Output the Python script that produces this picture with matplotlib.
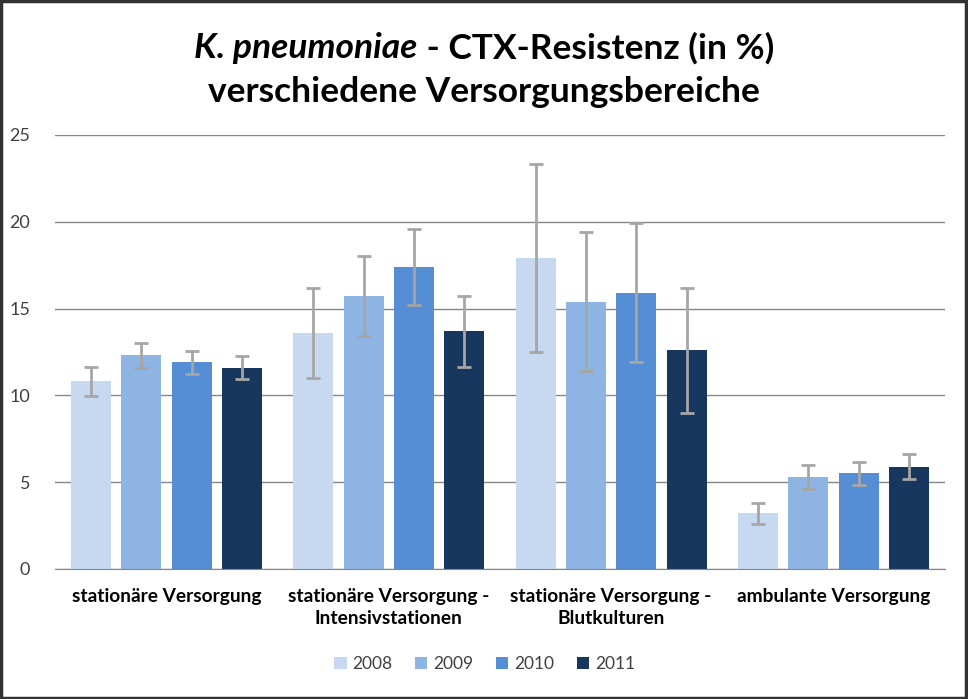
import matplotlib
matplotlib.use("Agg")
import matplotlib.pyplot as plt
from matplotlib.patches import Rectangle
import numpy as np

plt.rcParams['font.family'] = ['Lato', 'DejaVu Sans']

# daten
kategorien = ["stationäre Versorgung", "stationäre Versorgung -\nIntensivstationen",
              "stationäre Versorgung -\nBlutkulturen", "ambulante Versorgung"]
jahre = ["2008", "2009", "2010", "2011"]
werte_2008 = [10.8, 13.6, 17.9, 3.2]
werte_2009 = [12.3, 15.7, 15.4, 5.3]
werte_2010 = [11.9, 17.4, 15.9, 5.5]
werte_2011 = [11.6, 13.7, 12.6, 5.9]
fehler_2008 = [0.85, 2.6, 5.4, 0.6]
fehler_2009 = [0.72, 2.3, 4.0, 0.7]
fehler_2010 = [0.65, 2.2, 4.0, 0.66]
fehler_2011 = [0.65, 2.05, 3.6, 0.7]

werte = [werte_2008, werte_2009, werte_2010, werte_2011]
fehler = [fehler_2008, fehler_2009, fehler_2010, fehler_2011]
farben = ["#C6D9F1", "#8EB4E3", "#558ED5", "#17375E"]

fig = plt.figure(figsize=(9.68, 6.99), dpi=100)
ax = fig.add_axes([0.057, 0.186, 0.919, 0.621])

x = np.arange(len(kategorien))
abstand = 0.2265
breite = 0.18
for i in range(len(jahre)):
    pos = x + (i - 1.5) * abstand
    ax.bar(pos, werte[i], breite, color=farben[i], label=jahre[i], zorder=2)
    ax.errorbar(pos, werte[i], yerr=fehler[i], fmt="none", ecolor="#A6A6A6",
                elinewidth=2, capsize=5, capthick=2, zorder=3)

ax.set_xlim(-0.5, 3.5)
ax.set_ylim(0, 25)
ax.set_yticks([0, 5, 10, 15, 20, 25])
ax.yaxis.grid(True, color="#868686", linewidth=1)
ax.set_axisbelow(True)
for s in ["top", "right", "left"]:
    ax.spines[s].set_visible(False)
ax.spines["bottom"].set_color("#868686")
ax.tick_params(axis="y", length=0, labelsize=13, labelcolor="#404040", pad=18)
ax.tick_params(axis="x", length=0, pad=14)
ax.set_xticks(x)
ax.set_xticklabels(kategorien, fontsize=13.8, fontweight="bold", color="#000000",
                   linespacing=1.35)

ax.legend(loc="upper center", bbox_to_anchor=(0.483, -0.165), ncol=4, frameon=False,
          fontsize=12.5, handlelength=0.7, handleheight=0.7, handletextpad=0.35,
          columnspacing=1.3, labelcolor="#404040")

# titel mit kursivem teil
fig.canvas.draw()
r = fig.canvas.get_renderer()
t1 = fig.text(0, 0.931, "K. pneumoniae", fontsize=25.5, fontweight="bold", fontstyle="italic",
              va="center", ha="left")
t2 = fig.text(0, 0.931, " - CTX-Resistenz (in %)", fontsize=25.5, fontweight="bold",
              va="center", ha="left")
w1 = t1.get_window_extent(r).width
w2 = t2.get_window_extent(r).width
start = (968 - w1 - w2) / 2 / 968
t1.set_x(start)
t2.set_x(start + w1 / 968)
fig.text(0.5, 0.868, "verschiedene Versorgungsbereiche", fontsize=25.5, fontweight="bold",
         va="center", ha="center")

fig.patches.append(Rectangle((0.001, 0.001), 0.997, 0.997, transform=fig.transFigure,
                             fill=False, edgecolor="#333333", linewidth=2.5))

fig.savefig("out.png", dpi=100)
